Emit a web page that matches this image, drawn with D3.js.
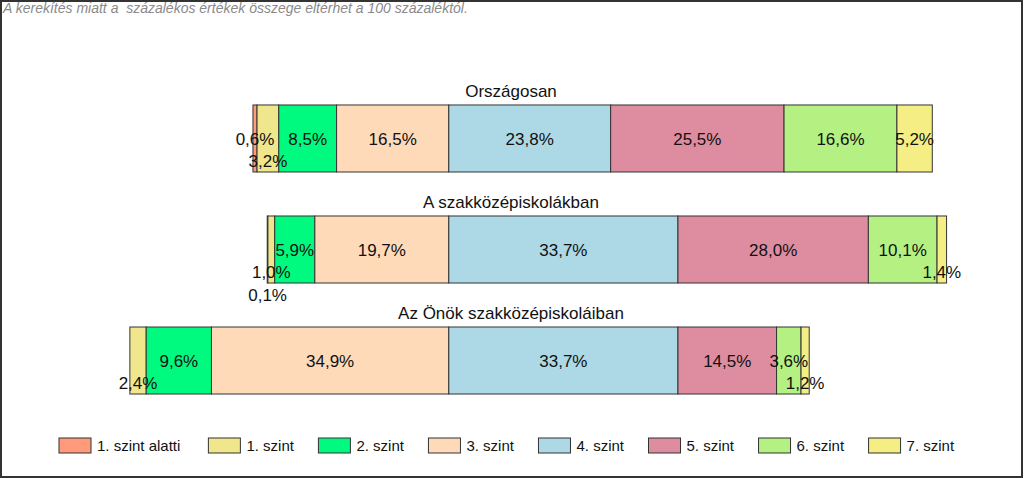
<!DOCTYPE html>
<html>
<head>
<meta charset="utf-8">
<script src="https://cdn.jsdelivr.net/npm/d3@7"></script>
<style>
  html, body { margin: 0; padding: 0; background: #fff; }
  svg { display: block; font-family: "Liberation Sans", Arial, sans-serif; }
</style>
</head>
<body>
<svg id="chart" width="1024" height="478"></svg>
<script>
// ---- Data ----
const categories = ["Országosan", "A szakközépiskolákban", "Az Önök szakközépiskoláiban"];
const levels = ["1. szint alatti", "1. szint", "2. szint", "3. szint", "4. szint", "5. szint", "6. szint", "7. szint"];
const levelColors = ["#FF9B7A", "#F0E68C", "#00FA7F", "#FFDAB9", "#ADD8E6", "#DE8CA0", "#B4F082", "#F4EE84"];
const orszagosan = [0.6, 3.2, 8.5, 16.5, 23.8, 25.5, 16.6, 5.2];
const szakkozepiskolak = [0.1, 1.0, 5.9, 19.7, 33.7, 28.0, 10.1, 1.4];
const onokIskolai = [0, 2.4, 9.6, 34.9, 33.7, 14.5, 3.6, 1.2];
const seriesValues = [orszagosan, szakkozepiskolak, onokIskolai];
const leftLevelCount = 4; // levels below the centre line
const noteText = "A kerekítés miatt a  százalékos értékek összege eltérhet a 100 százaléktól.";

// ---- Layout ----
const svg = d3.select("#chart");

svg.append("rect")
  .attr("x", 1).attr("y", 1).attr("width", 1021).attr("height", 476)
  .attr("fill", "#fff").attr("stroke", "#333").attr("stroke-width", 2);

svg.append("text")
  .attr("x", 3).attr("y", 13)
  .attr("font-size", 14).attr("font-style", "italic").attr("fill", "#8a8a8a")
  .style("white-space", "pre")
  .text(noteText);

const x = d3.scaleLinear().domain([-66, 84]).range([0, 1020]);
const y = d3.scaleBand().domain(categories).range([83, 416]).paddingInner(0.3964).paddingOuter(0.198);

const fmt = v => d3.format(".1f")(v).replace(".", ",");

// Build segments: diverging around 0 (between level 3 and level 4)
const rows = categories.map((cat, ci) => {
  const vals = seriesValues[ci];
  const segs = [];
  let acc = 0;
  for (let i = leftLevelCount - 1; i >= 0; i--) {
    segs.push({ level: i, value: vals[i], x0: -(acc + vals[i]), x1: -acc });
    acc += vals[i];
  }
  acc = 0;
  for (let i = leftLevelCount; i < levels.length; i++) {
    segs.push({ level: i, value: vals[i], x0: acc, x1: acc + vals[i] });
    acc += vals[i];
  }
  return { cat, segs };
});

const g = svg.append("g");

rows.forEach(row => {
  const top = y(row.cat);
  const bh = y.bandwidth();
  const cy = top + bh / 2;

  g.append("text")
    .attr("x", 511).attr("y", top - 8)
    .attr("text-anchor", "middle").attr("font-size", 17).attr("fill", "#111")
    .text(row.cat);

  const drawOrder = [...row.segs].sort((a, b) => a.level - b.level);
  g.selectAll(null)
    .data(drawOrder.filter(d => d.value > 0))
    .enter().append("rect")
    .attr("x", d => x(d.x0))
    .attr("y", top)
    .attr("width", d => x(d.x1) - x(d.x0))
    .attr("height", bh)
    .attr("fill", d => levelColors[d.level])
    .attr("stroke", "#333")
    .attr("stroke-width", 1);

  // labels with simple collision avoidance, placed from centre outward
  const placed = [];
  const pad = 4;
  row.segs.forEach(d => {
    if (d.value <= 0) return;
    const cx = x((d.x0 + d.x1) / 2);
    const t = g.append("text")
      .attr("x", cx).attr("text-anchor", "middle")
      .attr("font-size", 17).attr("fill", "#111")
      .text(fmt(d.value) + "%");
    const w = t.node().getComputedTextLength();
    const a = cx - w / 2, b = cx + w / 2;
    let lvl = 0;
    while (placed.some(p => p.lvl === lvl && a < p.b + pad && b > p.a - pad)) lvl++;
    placed.push({ a, b, lvl });
    t.attr("y", cy + lvl * 22.5).attr("dy", "0.36em");
  });
});

// ---- Legend ----
const legend = svg.append("g");
let lx = 59;
levels.forEach((name, i) => {
  legend.append("rect")
    .attr("x", lx).attr("y", 438).attr("width", 32).attr("height", 15)
    .attr("fill", levelColors[i]).attr("stroke", "#333").attr("stroke-width", 1);
  const t = legend.append("text")
    .attr("x", lx + 38).attr("y", 451)
    .attr("font-size", 15).attr("fill", "#111")
    .text(name);
  lx += 38 + t.node().getComputedTextLength() + (i === 0 ? 28 : 24.5);
});
</script>
</body>
</html>
